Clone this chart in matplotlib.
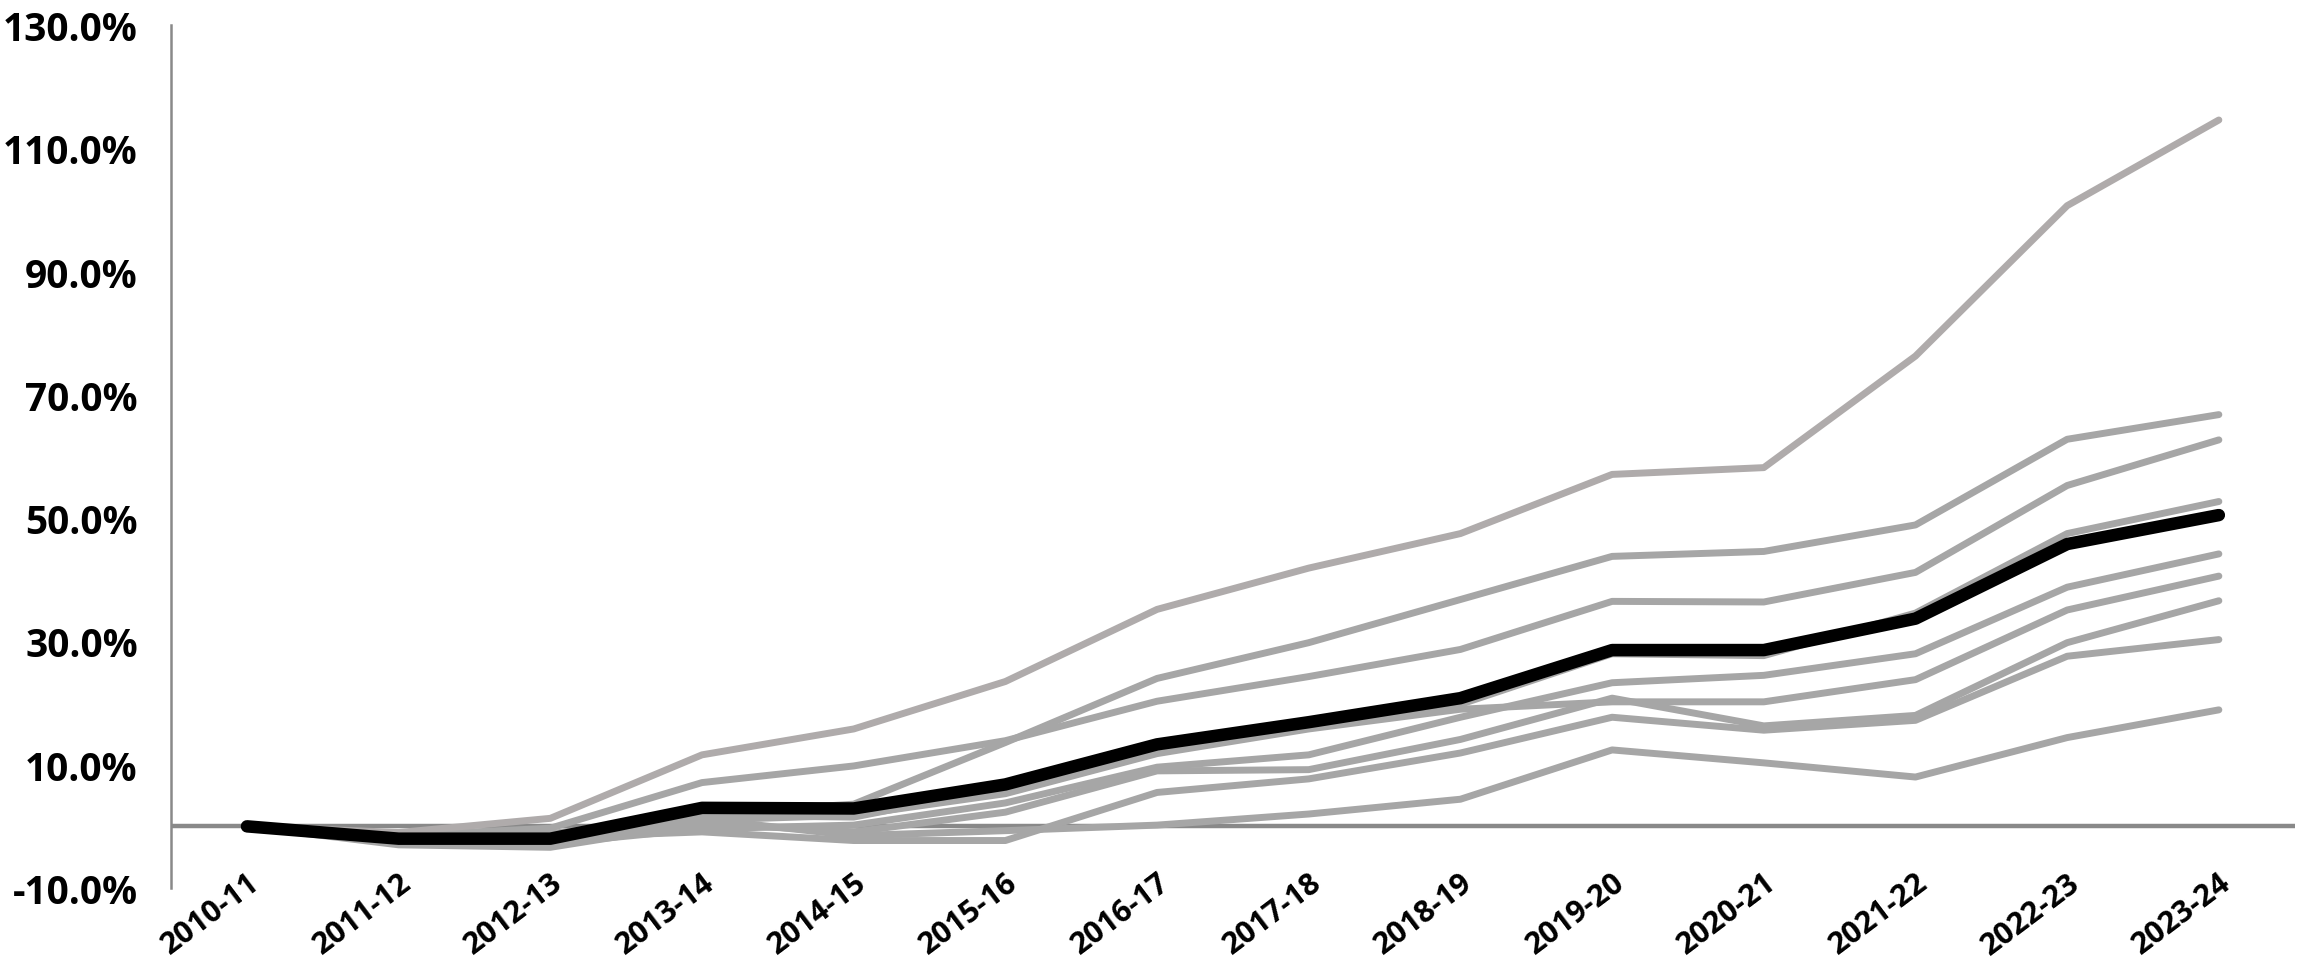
import matplotlib.pyplot as plt
import numpy as np

plt.rcParams['font.family'] = ['Open Sans', 'DejaVu Sans']

years = ['2010-11', '2011-12', '2012-13', '2013-14', '2014-15', '2015-16', '2016-17',
         '2017-18', '2018-19', '2019-20', '2020-21', '2021-22', '2022-23', '2023-24']

# cumulative change since 2010-11, in %
highlight = [0, -2.0, -2.0, 3.0, 2.9, 6.8, 13.3, 16.9, 20.8, 28.6, 28.6, 33.7, 45.8, 50.5]

top_line = [0, -1.0, 1.3, 11.6, 15.8, 23.5, 35.2, 41.9, 47.5, 57.1, 58.2, 76.3, 100.7, 114.6]
others = [
    [0, -2.3, -1.2, 2.0, 3.6, 13.6, 24.0, 29.8, 36.8, 43.8, 44.6, 48.9, 62.8, 66.8],
    [0, -1.5, -0.3, 7.1, 9.8, 13.9, 20.3, 24.3, 28.7, 36.5, 36.4, 41.2, 55.3, 62.7],
    [0, -2.6, -2.5, 1.8, 1.5, 6.3, 12.6, 16.6, 19.8, 28.0, 27.7, 34.6, 47.5, 52.7],
    [0, -2.2, -2.0, 1.0, 1.8, 5.3, 11.8, 15.8, 19.0, 20.2, 20.2, 23.8, 35.1, 40.6],
    [0, -2.8, -2.8, -0.4, 0.2, 3.8, 9.6, 11.6, 17.7, 23.3, 24.5, 28.0, 38.8, 44.2],
    [0, -3.0, -3.4, 0.5, -0.9, 2.3, 9.0, 9.2, 14.1, 20.8, 16.3, 18.0, 29.8, 36.6],
    [0, -2.5, -1.8, -0.9, -2.3, -2.3, 5.5, 7.7, 11.9, 17.7, 15.6, 17.2, 27.6, 30.3],
    [0, -1.5, -2.0, 1.2, -1.5, -0.7, 0.2, 2.0, 4.4, 12.4, 10.3, 8.0, 14.4, 18.9],
]

yticks = [-10, 10, 30, 50, 70, 90, 110, 130]

fig = plt.figure(figsize=(22.97, 9.62), dpi=100)
ax = fig.add_axes([0.0745, 0.0759, 0.9245, 0.897])

x = np.arange(len(years))

ax.axhline(0, color='#898989', lw=3.2, zorder=1)

for s in others:
    ax.plot(x, s, color='#A6A6A6', lw=5, solid_capstyle='round', zorder=2)
ax.plot(x, top_line, color='#AFABAB', lw=5, solid_capstyle='round', zorder=2)
ax.plot(x, highlight, color='black', lw=9, solid_capstyle='round', zorder=3)

ax.set_xlim(-0.5, 13.5)
ax.set_ylim(-10, 130)
ax.set_yticks(yticks)
ax.set_yticklabels(['%.1f%%' % v for v in yticks], fontsize=28, fontweight='bold')
ax.set_xticks(x)
ax.set_xticklabels(years, fontsize=22, fontweight='bold', rotation=37,
                   ha='right', va='top', rotation_mode='anchor')

for side in ['top', 'right', 'bottom']:
    ax.spines[side].set_visible(False)
ax.spines['left'].set_color('#898989')
ax.spines['left'].set_linewidth(1.8)
ax.tick_params(axis='both', length=0)
ax.tick_params(axis='y', pad=24)
ax.tick_params(axis='x', pad=-15)

fig.savefig('out.png', dpi=100)
